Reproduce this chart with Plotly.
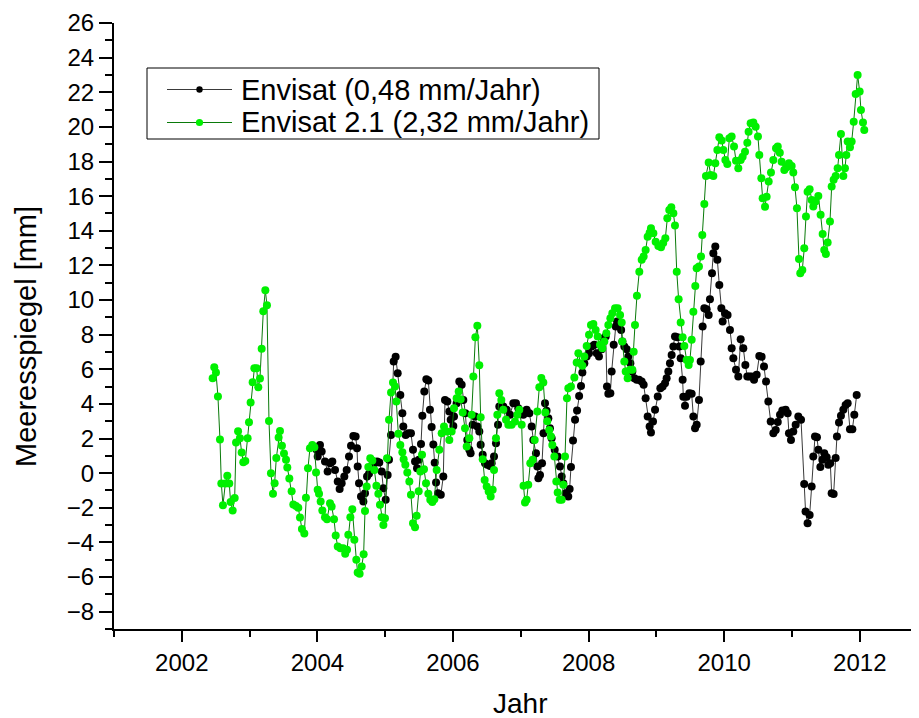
import plotly.graph_objects as go

# Envisat (black)
env_year = [2003.990, 2004.004, 2004.038, 2004.063, 2004.112, 2004.151, 2004.186, 2004.220, 2004.260, 2004.300,
            2004.328, 2004.358, 2004.397, 2004.432, 2004.466, 2004.496, 2004.530, 2004.564, 2004.584, 2004.594,
            2004.614, 2004.643, 2004.678, 2004.702, 2004.732, 2004.761, 2004.800, 2004.840, 2004.880, 2004.913,
            2004.948, 2004.972, 2005.007, 2005.036, 2005.056, 2005.086, 2005.125, 2005.154, 2005.184, 2005.223,
            2005.253, 2005.267, 2005.302, 2005.341, 2005.380, 2005.410, 2005.440, 2005.469, 2005.498, 2005.528,
            2005.548, 2005.577, 2005.607, 2005.636, 2005.660, 2005.685, 2005.710, 2005.730, 2005.750, 2005.780,
            2005.820, 2005.857, 2005.882, 2005.916, 2005.946, 2005.966, 2006.005, 2006.015, 2006.054, 2006.093,
            2006.128, 2006.152, 2006.182, 2006.211, 2006.241, 2006.260, 2006.290, 2006.325, 2006.359, 2006.388,
            2006.408, 2006.438, 2006.472, 2006.506, 2006.546, 2006.570, 2006.605, 2006.634, 2006.664, 2006.683,
            2006.713, 2006.742, 2006.792, 2006.841, 2006.890, 2006.929, 2006.963, 2006.998, 2007.037, 2007.086,
            2007.126, 2007.160, 2007.185, 2007.224, 2007.244, 2007.259, 2007.283, 2007.313, 2007.335, 2007.357,
            2007.380, 2007.406, 2007.430, 2007.455, 2007.500, 2007.544, 2007.578, 2007.603, 2007.627, 2007.662,
            2007.700, 2007.720, 2007.740, 2007.770, 2007.800, 2007.830, 2007.860, 2007.888, 2007.908, 2007.937,
            2007.972, 2008.006, 2008.045, 2008.085, 2008.120, 2008.153, 2008.193, 2008.222, 2008.252, 2008.271,
            2008.291, 2008.321, 2008.340, 2008.370, 2008.400, 2008.420, 2008.450, 2008.480, 2008.498, 2008.527,
            2008.562, 2008.586, 2008.616, 2008.645, 2008.675, 2008.710, 2008.743, 2008.783, 2008.812, 2008.841,
            2008.871, 2008.900, 2008.920, 2008.950, 2008.980, 2009.020, 2009.058, 2009.092, 2009.127, 2009.151,
            2009.176, 2009.200, 2009.225, 2009.250, 2009.274, 2009.310, 2009.338, 2009.358, 2009.387, 2009.397,
            2009.422, 2009.446, 2009.486, 2009.520, 2009.545, 2009.570, 2009.594, 2009.628, 2009.653, 2009.682,
            2009.707, 2009.741, 2009.771, 2009.790, 2009.820, 2009.840, 2009.869, 2009.899, 2009.928, 2009.958,
            2009.977, 2010.012, 2010.050, 2010.085, 2010.110, 2010.135, 2010.174, 2010.208, 2010.243, 2010.282,
            2010.312, 2010.341, 2010.370, 2010.405, 2010.440, 2010.479, 2010.518, 2010.552, 2010.587, 2010.617,
            2010.651, 2010.686, 2010.725, 2010.760, 2010.790, 2010.823, 2010.857, 2010.906, 2010.936, 2010.955,
            2010.985, 2011.019, 2011.054, 2011.093, 2011.133, 2011.180, 2011.200, 2011.230, 2011.260, 2011.290,
            2011.314, 2011.339, 2011.368, 2011.388, 2011.418, 2011.447, 2011.476, 2011.511, 2011.536, 2011.565,
            2011.585, 2011.614, 2011.644, 2011.663, 2011.693, 2011.722, 2011.757, 2011.791, 2011.821, 2011.855,
            2011.890, 2011.919, 2011.954]
env_mm = [1.35, 0.96, 1.63, 1.25, 0.67, 0.10, 0.58, 0.67, 0.19, -0.48,
          -0.92, -0.58, -0.19, 0.19, 0.96, 1.58, 2.15, 2.12, 1.44, 0.38,
          -0.58, -1.35, -1.64, -1.16, -0.19, -0.04, 0.38, 0.58, 0.67, 0.62,
          0.10, -0.87, -1.54, -0.10, 0.77, 2.21, 6.45, 6.73, 5.77, 4.52,
          3.46, 2.69, 2.21, 2.31, 2.31, 1.35, 0.67, 0.29, 0.77, 1.69,
          3.31, 4.71, 5.43, 5.35, 3.66, 2.66, 1.65, 0.60, -0.54, -1.16,
          -1.25, -0.19, 4.23, 4.14, 3.56, 3.08, 2.73, 3.27, 4.04, 5.29,
          5.10, 4.23, 3.46, 1.92, 1.35, 1.15, 2.79, 3.27, 2.69, 2.40,
          1.64, 1.06, 0.58, 0.48, 0.42, 0.58, 0.96, 1.73, 2.79, 3.85,
          3.94, 3.85, 3.66, 3.37, 4.04, 4.04, 3.75, 3.56, 3.37, 3.66,
          3.46, 2.69, 1.92, 1.15, 0.38, -0.29, -0.10, 0.58, 2.30, 4.04,
          3.60, 3.17, 2.60, 2.02, 1.35, 0.96, 0.38, -0.19, -0.58, -1.16,
          -1.35, -0.92, 0.35, 1.88, 3.08, 3.62, 4.46, 5.04, 5.81, 6.35,
          6.74, 6.93, 7.31, 7.41, 6.93, 6.74, 7.16, 7.79, 7.89, 5.00,
          4.58, 4.62, 5.87, 7.41, 8.47, 8.76, 8.47, 8.27, 7.60, 7.31,
          7.16, 6.74, 6.35, 5.87, 5.48, 5.39, 5.39, 5.29, 5.10, 4.33,
          3.27, 2.69, 2.35, 2.98, 3.66, 4.43, 4.90, 5.00, 5.19, 5.48,
          5.87, 6.35, 6.83, 7.31, 7.89, 7.85, 7.31, 6.64, 5.39, 4.42,
          3.89, 4.42, 4.62, 4.58, 3.27, 2.60, 2.79, 4.23, 6.45, 8.47,
          9.53, 9.47, 9.14, 10.05, 11.55, 12.70, 13.09, 12.32, 10.87, 9.53,
          8.76, 9.24, 9.14, 8.27, 7.22, 6.64, 5.97, 5.58, 7.74, 7.22,
          6.25, 5.58, 5.58, 5.58, 5.39, 5.68, 6.77, 6.73, 6.16, 5.29,
          4.14, 2.98, 2.31, 2.50, 2.95, 3.37, 3.62, 3.66, 3.46, 2.31,
          1.92, 2.41, 2.79, 3.27, 3.08, -0.62, -2.21, -2.89, -2.41, -0.77,
          0.96, 2.12, 2.08, 1.35, 0.35, 0.77, 1.15, 0.92, 0.48, 0.58,
          -1.16, -1.20, 0.87, 2.12, 2.92, 3.31, 3.66, 3.94, 4.04, 2.54,
          2.54, 3.37, 4.52]

# Envisat 2.1 (green)
e21_year = [2002.455, 2002.479, 2002.504, 2002.533, 2002.563, 2002.583, 2002.607, 2002.642, 2002.671, 2002.700,
            2002.720, 2002.750, 2002.780, 2002.800, 2002.830, 2002.858, 2002.883, 2002.907, 2002.937, 2002.971,
            2002.991, 2003.015, 2003.045, 2003.070, 2003.104, 2003.128, 2003.153, 2003.178, 2003.202, 2003.232,
            2003.256, 2003.286, 2003.315, 2003.345, 2003.369, 2003.394, 2003.428, 2003.448, 2003.477, 2003.507,
            2003.537, 2003.556, 2003.586, 2003.620, 2003.645, 2003.684, 2003.718, 2003.743, 2003.772, 2003.807,
            2003.831, 2003.861, 2003.890, 2003.925, 2003.955, 2003.980, 2004.004, 2004.024, 2004.048, 2004.073,
            2004.112, 2004.142, 2004.186, 2004.210, 2004.245, 2004.270, 2004.300, 2004.340, 2004.380, 2004.410,
            2004.437, 2004.456, 2004.486, 2004.515, 2004.545, 2004.574, 2004.594, 2004.623, 2004.653, 2004.682,
            2004.702, 2004.727, 2004.751, 2004.780, 2004.810, 2004.840, 2004.870, 2004.899, 2004.923, 2004.948,
            2004.973, 2004.997, 2005.027, 2005.056, 2005.086, 2005.115, 2005.145, 2005.164, 2005.194, 2005.223,
            2005.253, 2005.272, 2005.297, 2005.326, 2005.356, 2005.380, 2005.410, 2005.440, 2005.464, 2005.494,
            2005.518, 2005.543, 2005.572, 2005.602, 2005.636, 2005.665, 2005.695, 2005.725, 2005.759, 2005.798,
            2005.833, 2005.867, 2005.907, 2005.946, 2005.980, 2006.015, 2006.054, 2006.084, 2006.113, 2006.143,
            2006.177, 2006.202, 2006.241, 2006.275, 2006.300, 2006.330, 2006.359, 2006.388, 2006.408, 2006.438,
            2006.467, 2006.497, 2006.526, 2006.556, 2006.585, 2006.605, 2006.634, 2006.654, 2006.683, 2006.713,
            2006.742, 2006.782, 2006.816, 2006.865, 2006.914, 2006.949, 2006.978, 2007.013, 2007.040, 2007.062,
            2007.086, 2007.110, 2007.140, 2007.175, 2007.205, 2007.244, 2007.273, 2007.303, 2007.332, 2007.362,
            2007.390, 2007.420, 2007.445, 2007.465, 2007.495, 2007.524, 2007.544, 2007.573, 2007.603, 2007.627,
            2007.652, 2007.681, 2007.701, 2007.740, 2007.790, 2007.824, 2007.849, 2007.878, 2007.908, 2007.937,
            2007.972, 2008.006, 2008.035, 2008.070, 2008.104, 2008.134, 2008.168, 2008.203, 2008.232, 2008.262,
            2008.291, 2008.321, 2008.350, 2008.390, 2008.429, 2008.464, 2008.488, 2008.498, 2008.527, 2008.547,
            2008.576, 2008.610, 2008.645, 2008.665, 2008.684, 2008.713, 2008.748, 2008.783, 2008.812, 2008.841,
            2008.871, 2008.900, 2008.920, 2008.955, 2008.989, 2009.029, 2009.068, 2009.100, 2009.132, 2009.161,
            2009.190, 2009.220, 2009.250, 2009.274, 2009.300, 2009.328, 2009.358, 2009.387, 2009.412, 2009.446,
            2009.476, 2009.495, 2009.520, 2009.545, 2009.574, 2009.594, 2009.628, 2009.658, 2009.677, 2009.707,
            2009.731, 2009.771, 2009.800, 2009.840, 2009.869, 2009.899, 2009.928, 2009.963, 2009.987, 2010.017,
            2010.046, 2010.076, 2010.110, 2010.145, 2010.174, 2010.208, 2010.243, 2010.272, 2010.307, 2010.341,
            2010.360, 2010.390, 2010.430, 2010.464, 2010.498, 2010.518, 2010.548, 2010.567, 2010.602, 2010.626,
            2010.656, 2010.690, 2010.724, 2010.764, 2010.790, 2010.820, 2010.847, 2010.887, 2010.921, 2010.955,
            2010.995, 2011.019, 2011.044, 2011.073, 2011.103, 2011.122, 2011.152, 2011.181, 2011.206, 2011.230,
            2011.260, 2011.290, 2011.314, 2011.348, 2011.388, 2011.422, 2011.452, 2011.476, 2011.500, 2011.526,
            2011.560, 2011.585, 2011.614, 2011.644, 2011.673, 2011.693, 2011.722, 2011.757, 2011.781, 2011.801,
            2011.821, 2011.855, 2011.880, 2011.910, 2011.939, 2011.968, 2011.998, 2012.017, 2012.047, 2012.066]
e21_mm = [5.48, 6.12, 5.81, 4.43, 1.94, -0.60, -1.85, -0.60, -0.15, -0.60,
          -1.67, -2.15, -1.43, 1.77, 2.42, 2.02, 1.19, 0.63, 0.71, 2.02,
          2.94, 4.08, 5.25, 6.06, 6.06, 4.96, 5.47, 7.18, 9.35, 10.56,
          9.70, 3.02, 0.00, -1.19, -0.58, 0.87, 2.06, 2.44, 1.58, 1.13,
          0.77, 0.33, -0.31, -1.04, -1.81, -1.89, -2.00, -2.56, -3.23, -3.48,
          -1.42, 0.29, 1.44, 1.62, 1.50, 0.04, -0.96, -1.19, -1.64, -2.16,
          -2.54, -2.66, -1.73, -1.93, -2.66, -3.60, -4.24, -4.33, -4.33, -4.66,
          -4.43, -3.56, -2.54, -2.08, -3.85, -5.00, -5.74, -5.81, -5.39, -4.68,
          -2.18, -0.77, 0.35, 0.86, 0.73, 0.19, -0.73, -1.19, -1.83, -2.54,
          -3.00, -2.60, 0.86, 3.08, 4.66, 5.23, 5.00, 4.14, 2.27, 1.63,
          1.21, 0.81, 0.48, 0.04, -0.48, -1.25, -2.89, -3.12, -2.46, -1.04,
          0.10, 1.06, 0.23, -0.58, -1.19, -1.54, -1.67, -1.50, 0.19, 1.35,
          2.31, 2.69, 2.40, 1.92, 2.40, 3.75, 4.33, 4.72, 4.27, 3.50,
          2.60, 1.54, 2.02, 3.37, 5.58, 7.85, 8.52, 6.23, 3.23, 0.81,
          -0.39, -0.77, -1.06, -1.35, -0.96, 0.19, 2.02, 3.37, 4.62, 4.23,
          3.66, 3.08, 2.79, 2.79, 2.98, 3.37, 3.66, 2.79, -0.73, -1.69,
          -1.54, -0.67, 0.58, 0.77, 1.92, 3.56, 4.96, 5.50, 5.23, 3.50,
          3.00, 2.50, 2.12, 1.63, 0.96, -0.48, -1.12, -1.54, -1.54, -0.67,
          0.96, 4.33, 4.91, 5.00, 5.52, 6.39, 6.93, 6.35, 6.20, 6.74,
          7.35, 7.99, 8.56, 8.62, 8.27, 7.89, 7.41, 7.22, 7.60, 8.08,
          8.56, 8.95, 9.24, 9.53, 9.53, 9.14, 8.70, 7.60, 6.45, 5.87,
          5.48, 5.97, 5.97, 7.02, 8.56, 10.24, 11.64, 12.32, 12.51, 12.89,
          13.66, 13.89, 14.14, 13.86, 13.37, 13.12, 13.05, 13.30, 13.57, 14.72,
          15.20, 15.36, 15.01, 14.30, 11.64, 10.04, 8.70, 7.85, 7.35, 6.54,
          6.25, 6.54, 7.70, 9.33, 10.81, 11.83, 11.93, 12.51, 13.76, 15.55,
          17.17, 17.94, 17.22, 17.17, 17.90, 18.67, 19.40, 19.21, 18.67, 18.09,
          17.86, 19.34, 19.44, 18.86, 18.05, 17.61, 18.09, 18.28, 18.57, 19.09,
          19.72, 20.21, 20.25, 20.01, 19.44, 18.38, 17.03, 15.88, 15.39, 15.97,
          16.84, 17.36, 18.09, 18.76, 18.86, 18.50, 17.99, 17.51, 17.67, 17.90,
          17.74, 17.36, 16.51, 15.30, 12.37, 11.55, 11.74, 12.99, 14.82, 16.26,
          16.40, 15.78, 15.40, 15.69, 16.01, 14.92, 13.82, 12.89, 12.66, 13.32,
          14.53, 16.55, 16.94, 17.17, 17.61, 18.38, 19.59, 17.17, 17.61, 18.38,
          19.15, 18.82, 19.15, 20.30, 21.90, 23.00, 22.04, 20.98, 20.25, 19.82]

series_names = ["Envisat (0,48 mm/Jahr)", "Envisat 2.1 (2,32 mm/Jahr)"]
x_title = "Jahr"
y_title = "Meeresspiegel [mm]"

FONT = "Arial, Liberation Sans, sans-serif"
BLACK_LINE, BLACK_MARK = "#3a3a3a", "black"
GREEN_LINE, GREEN_MARK = "#0a7a0a", "#00f000"

# The page body has an 8px margin: the figure is sized so that it fills the
# window exactly; screen coordinates below are converted for that offset.
OFF = 8
W, H = 919 - OFF, 718 - OFF
PL, PR, PT, PB = 114, 919, 23, 629          # plot area, screen pixels
ML, MR, MT, MB = PL - OFF, 919 - PR, PT - OFF, 718 - PB
PW, PH = PR - PL, PB - PT


def px(sx):
    return (sx - PL) / PW


def py(sy):
    return 1 - (sy - PT) / PH


fig = go.Figure()
fig.add_trace(go.Scatter(
    x=env_year, y=env_mm, mode="lines+markers", name=series_names[0],
    line=dict(color=BLACK_LINE, width=1),
    marker=dict(color=BLACK_MARK, size=8), showlegend=False,
))
fig.add_trace(go.Scatter(
    x=e21_year, y=e21_mm, mode="lines+markers", name=series_names[1],
    line=dict(color=GREEN_LINE, width=1),
    marker=dict(color=GREEN_MARK, size=8), showlegend=False,
))

axis_common = dict(
    showgrid=False, zeroline=False, showline=True, linecolor="black", linewidth=2,
    ticks="outside", tickcolor="black", tickwidth=2, automargin=False,
    tickfont=dict(family=FONT, size=24, color="black"),
)

fig.update_xaxes(
    range=[2001, 2001 + PW / 67.8], tick0=2002, dtick=2, ticklen=11,
    minor=dict(dtick=1, ticks="outside", ticklen=6, tickwidth=2, tickcolor="black"),
    **axis_common,
)
fig.update_yaxes(
    range=[-9, 26], tick0=-8, dtick=2, ticklen=13,
    minor=dict(dtick=1, ticks="outside", ticklen=7, tickwidth=2, tickcolor="black"),
    **axis_common,
)

# legend box (drawn as layout decoration)
shapes = [
    dict(type="rect", xref="paper", yref="paper", x0=px(147), x1=px(599), y0=py(68), y1=py(139),
         line=dict(color="black", width=1), fillcolor="white", layer="above"),
]
annotations = []
rows = [(89.5, BLACK_LINE, BLACK_MARK, 3.2, series_names[0]),
        (122.5, GREEN_LINE, GREEN_MARK, 3.6, series_names[1])]
for sy, lc, mc, r, name in rows:
    shapes.append(dict(type="line", xref="paper", yref="paper", x0=px(167), x1=px(232), y0=py(sy), y1=py(sy),
                       line=dict(color=lc, width=1), layer="above"))
    shapes.append(dict(type="circle", xref="paper", yref="paper", x0=px(199.5 - r), x1=px(199.5 + r),
                       y0=py(sy - r), y1=py(sy + r), line=dict(color=mc, width=0), fillcolor=mc, layer="above"))
    annotations.append(dict(text=name, x=px(239), y=py(sy), xref="paper", yref="paper", showarrow=False,
                            xanchor="left", yanchor="middle",
                            font=dict(family=FONT, size=29, color="black")))

annotations.append(dict(text=x_title, x=px(520), y=py(703), xref="paper", yref="paper", showarrow=False,
                        xanchor="center", yanchor="middle", font=dict(family=FONT, size=28, color="black")))
annotations.append(dict(text=y_title, x=px(26), y=py(337), xref="paper", yref="paper", showarrow=False,
                        xanchor="center", yanchor="middle", textangle=-90,
                        font=dict(family=FONT, size=29, color="black")))

fig.update_layout(
    width=W, height=H,
    margin=dict(l=ML, r=MR, t=MT, b=MB, pad=0),
    paper_bgcolor="white", plot_bgcolor="white",
    font=dict(family=FONT, color="black"),
    showlegend=False,
    shapes=shapes,
    annotations=annotations,
)

fig.write_html("out.html")
